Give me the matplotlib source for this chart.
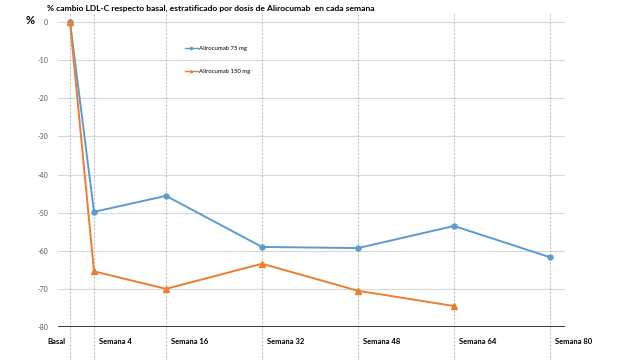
import matplotlib
matplotlib.use("Agg")
import matplotlib.pyplot as plt

plt.rcParams["axes.unicode_minus"] = False

# data
weeks = [0, 4, 16, 32, 48, 64, 80]
tick_labels = ["Basal", "Semana 4", "Semana 16", "Semana 32", "Semana 48", "Semana 64", "Semana 80"]
weeks_75 = [0, 4, 16, 32, 48, 64, 80]
ldl_75 = [0, -49.8, -45.6, -59.0, -59.3, -53.5, -61.7]
weeks_150 = [0, 4, 16, 32, 48, 64]
ldl_150 = [0, -65.4, -70.0, -63.4, -70.5, -74.5]

blue = "#5B9BD5"
orange = "#ED7D31"
font = ["Lato", "DejaVu Sans"]

fig = plt.figure(figsize=(6.4, 3.6), dpi=100)
ax = fig.add_axes([58 / 640, 33 / 360, 507 / 640, 313 / 360])

ax.set_xlim(-2, 82.5)
ax.set_ylim(-80, 2.1)

# horizontal grid
for y in range(-70, 1, 10):
    ax.axhline(y, color="#d9d9d9", lw=0.8, zorder=0)
ax.axhline(-80, color="black", lw=1.8, zorder=3)

# vertical dashed lines running past the axis
for w in weeks:
    ax.axvline(w, ymin=-0.11, ymax=1, color="#b0b0b0", lw=0.6,
               ls=(0, (2.5, 2)), clip_on=False, zorder=1)

ax.plot(weeks_75, ldl_75, color=blue, lw=1.4, marker="o", ms=3.6, label="Alirocumab 75 mg", zorder=4)
ax.plot(weeks_150, ldl_150, color=orange, lw=1.4, marker="^", ms=4, label="Alirocumab 150 mg", zorder=4)

for s in ax.spines.values():
    s.set_visible(False)
ax.set_xticks([])
ax.set_yticks(range(-80, 1, 10))
ax.tick_params(axis="y", length=0, labelsize=5, labelcolor="#595959", pad=7)
for lab in ax.get_yticklabels():
    lab.set_family(font)

# x labels
for w, t in zip(weeks, tick_labels):
    if w == 0:
        ax.text(w - 0.8, -83.8, t, ha="right", va="center", fontsize=5.5, fontweight="bold", family=font)
    else:
        ax.text(w + 0.8, -83.8, t, ha="left", va="center", fontsize=5.5, fontweight="bold", family=font)

# legend-like labels
ax.plot([19.2, 21.3], [-6.9, -6.9], color=blue, lw=1)
ax.plot([20.2], [-6.9], color=blue, marker="o", ms=1.5)
ax.text(21.5, -6.9, "Alirocumab 75 mg", fontsize=4.3, va="center", family=font)
ax.plot([19.2, 21.3], [-12.9, -12.9], color=orange, lw=1)
ax.plot([20.2], [-12.9], color=orange, marker="^", ms=1.5)
ax.text(21.5, -12.9, "Alirocumab 150 mg", fontsize=4.3, va="center", family=font)

fig.text(47 / 640, 1 - 8 / 360, "% cambio LDL-C respecto basal, estratificado por dosis de Alirocumab  en cada semana",
         fontsize=6.1, fontweight="bold", va="center", ha="left", family=font)
fig.text(26 / 640, 1 - 20 / 360, "%", fontsize=8, fontweight="bold", va="center", ha="left", family=font)

fig.savefig("out.png", dpi=100)
